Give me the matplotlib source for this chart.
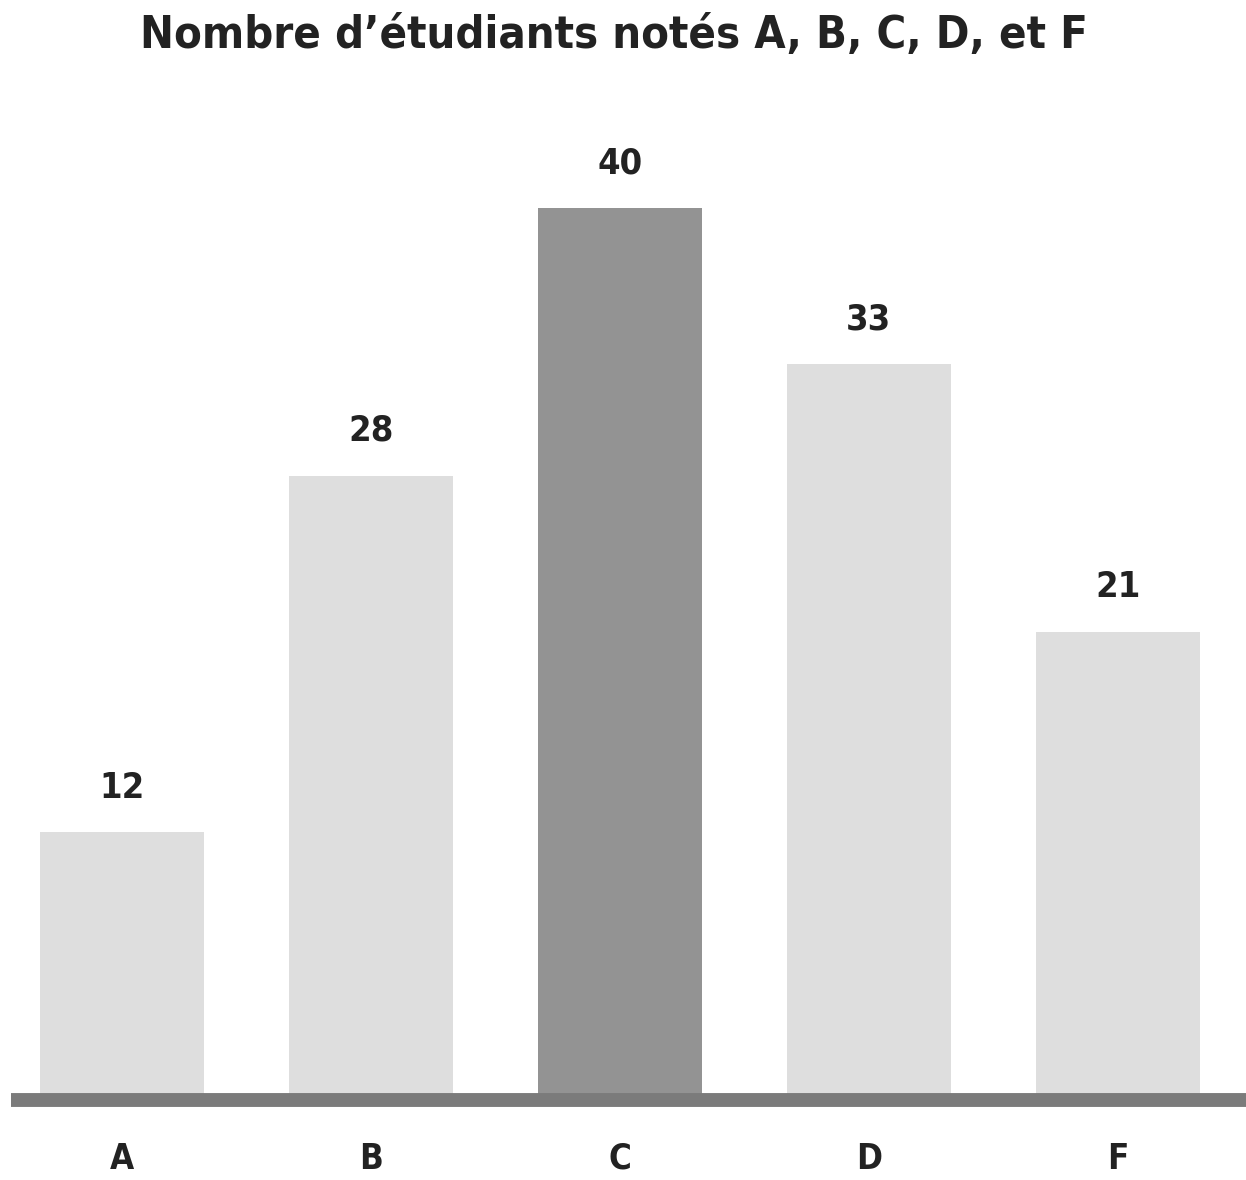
import matplotlib
matplotlib.use("Agg")
import matplotlib.pyplot as plt

categories = ["A", "B", "C", "D", "F"]
values = [12, 28, 40, 33, 21]
highlight = "C"
title = "Nombre d\u2019étudiants notés A, B, C, D, et F"

W, H = 1246, 1180
fig = plt.figure(figsize=(W / 100, H / 100), dpi=100)
fig.patch.set_facecolor("white")

left_px, right_px = 11, 1246
base_px, top_px = 1100, 100
ax = fig.add_axes([left_px / W, 1 - base_px / H, (right_px - left_px) / W, (base_px - top_px) / H])

colors = ["#939393" if c == highlight else "#dedede" for c in categories]
xs = list(range(len(categories)))
bars = ax.bar(xs, values, width=0.66, color=colors, zorder=1)

ax.set_xlim(-0.445, 4.515)
ax.set_ylim(0, 40 * (base_px - top_px) / (base_px - 208))

font = "DejaVu Sans"
stretch = "condensed"
for x, v in zip(xs, values):
    ax.annotate(str(v), (x, v), xytext=(0, 20), textcoords="offset points",
                ha="center", va="bottom", fontsize=26, fontweight="bold",
                fontstretch=stretch, color="#222222", family=font)

ax.axhline(0, color="#7b7b7b", linewidth=10, zorder=3, clip_on=False,
           solid_capstyle="butt")

for s in ax.spines.values():
    s.set_visible(False)
ax.set_yticks([])
ax.set_xticks(xs)
ax.set_xticklabels(categories, fontsize=25, fontweight="bold", color="#222222",
                   family=font, fontstretch=stretch)
ax.tick_params(axis="x", length=0, pad=30)

fig.text(614 / W, 1 - 36 / H, title, ha="center", va="center", fontsize=32.5,
         fontweight="bold", fontstretch=stretch, color="#222222", family=font)

fig.savefig("out.png", dpi=100)
